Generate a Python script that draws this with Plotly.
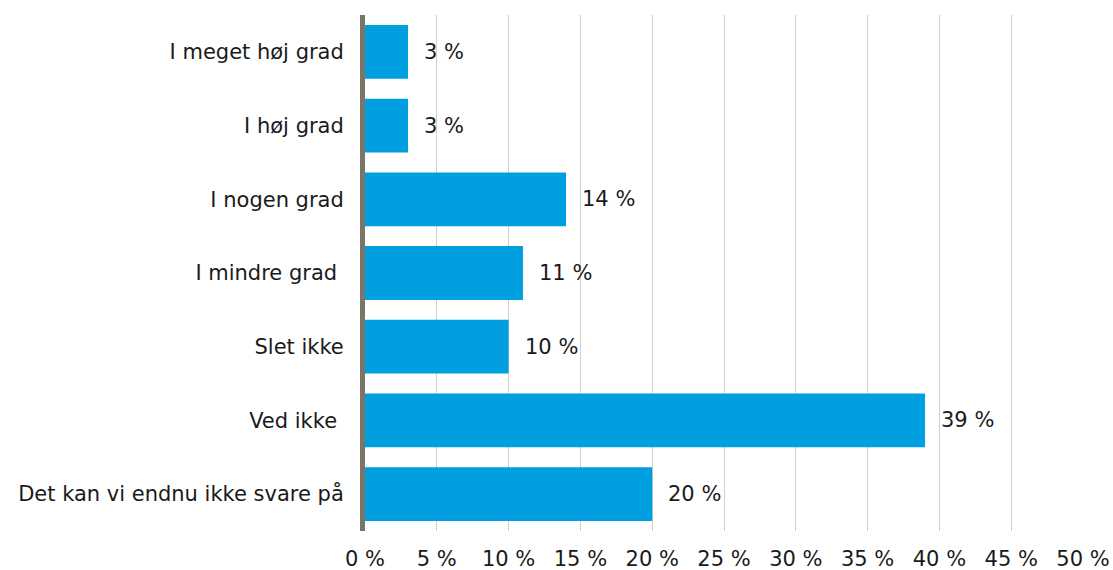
import plotly.graph_objects as go

# survey answers, top to bottom
categories = ["I meget høj grad", "I høj grad", "I nogen grad", "I mindre grad\u00a0",
              "Slet ikke", "Ved ikke\u00a0", "Det kan vi endnu ikke svare på"]
shares = [3, 3, 14, 11, 10, 39, 20]
tick_vals = [0, 5, 10, 15, 20, 25, 30, 35, 40, 45, 50]
tick_text = [f"{v} %" for v in tick_vals]

font_ = dict(family="DejaVu Sans, Verdana, sans-serif", size=21, color="#1a1a1a")

fig = go.Figure()
fig.add_trace(go.Bar(
    orientation="h",
    y=categories,
    x=shares,
    marker=dict(color="#009FE0", line_width=0),
    width=0.73,
    hoverinfo="x+y",
))

# value labels to the right of each bar
annotations = []
for c, v in zip(categories, shares):
    annotations.append(dict(x=v, y=c, xref="x", yref="y", text=f"{v} %",
                            xanchor="left", yanchor="middle", xshift=14,
                            showarrow=False, font=font_))

fig.update_layout(
    width=1113,
    height=570,
    margin=dict(l=365, r=30, t=15, b=39, autoexpand=False),
    plot_bgcolor="white",
    paper_bgcolor="white",
    font=font_,
    showlegend=False,
    bargap=0.27,
    annotations=annotations,
    xaxis=dict(
        range=[0, 50],
        tickvals=tick_vals,
        ticktext=tick_text,
        showgrid=True,
        gridcolor="#d0d0c8",
        gridwidth=1,
        zeroline=False,
        showline=False,
        ticks="",
        ticklabelstandoff=13,
        fixedrange=True,
    ),
    yaxis=dict(
        autorange="reversed",
        showline=True,
        linecolor="#7a7566",
        linewidth=5,
        ticks="",
        ticklabelstandoff=12,
        showgrid=False,
        fixedrange=True,
    ),
)

fig.write_html("out.html", config={"displayModeBar": False},
               post_script="document.body.style.margin='0';")
